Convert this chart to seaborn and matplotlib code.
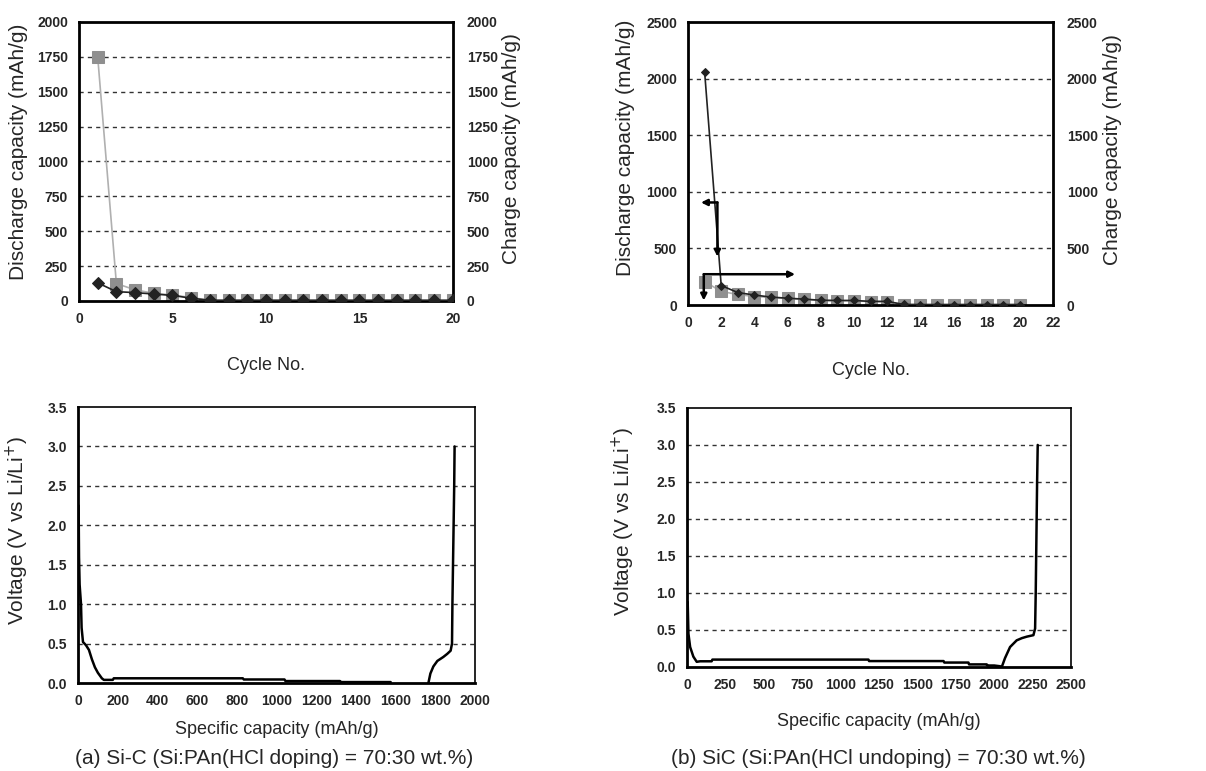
import matplotlib
matplotlib.use("Agg")
import matplotlib.pyplot as plt
from matplotlib import font_manager
import seaborn as sns
import numpy as np

# cycle data, panel (a)
cycles_a = list(range(1, 21))
dis_a = [130, 67, 60, 50, 40, 20, 5, 5, 5, 5, 5, 5, 5, 5, 5, 5, 5, 5, 5, 5]
chg_a = [1750, 125, 80, 55, 43, 25, 5, 5, 5, 5, 5, 5, 5, 5, 5, 5, 5, 5, 5, 5]

# cycle data, panel (b)
cycles_b = list(range(1, 21))
dis_b = [2060, 172, 110, 88, 70, 60, 52, 42, 40, 40, 32, 32, 5, 4, 4, 4, 4, 4, 4, 4]
chg_b = [207, 120, 93, 75, 67, 58, 49, 40, 38, 38, 29, 29, 3, 3, 3, 3, 3, 3, 3, 3]

# voltage profiles, panel (a)
va_dis_x = [3, 5, 8, 15, 18, 25, 40, 55, 70, 85, 100, 120, 130, 175, 180, 830, 835, 1040, 1045, 1320, 1325, 1575]
va_dis_y = [2.25, 1.6, 1.25, 1.0, 0.7, 0.52, 0.48, 0.42, 0.3, 0.2, 0.13, 0.06, 0.04, 0.04, 0.06, 0.06, 0.045, 0.045, 0.025, 0.025, 0.012, 0.012]
va_chg_x = [1765, 1775, 1790, 1810, 1840, 1860, 1877, 1884, 1886, 1889, 1892, 1895, 1897]
va_chg_y = [0.0, 0.12, 0.21, 0.28, 0.33, 0.37, 0.41, 0.5, 1.0, 1.5, 2.0, 2.5, 3.0]

# voltage profiles, panel (b)
vb_dis_x = [4, 9, 20, 41, 63, 85, 160, 165, 1181, 1185, 1670, 1675, 1832, 1836, 1951, 1955, 2000, 2038, 2049]
vb_dis_y = [0.88, 0.45, 0.27, 0.14, 0.07, 0.077, 0.077, 0.1, 0.1, 0.08, 0.08, 0.06, 0.06, 0.035, 0.035, 0.02, 0.02, 0.01, 0.0]
vb_chg_x = [2049, 2070, 2103, 2146, 2180, 2212, 2255, 2266, 2270, 2273, 2276, 2279, 2283]
vb_chg_y = [0.0, 0.12, 0.27, 0.36, 0.39, 0.41, 0.43, 0.52, 1.0, 1.5, 2.0, 2.5, 3.0]

sns.set_style("white")
plt.rcParams['font.family'] = ['Liberation Sans', 'DejaVu Sans']

tickprop = font_manager.FontProperties(family=['Liberation Sans', 'DejaVu Sans'], weight='bold', size=10)

ylabsize = 15
xlabsize = 13
grid_kw = dict(color='#333333', linestyle=(0, (3, 3)), linewidth=1)

fig = plt.figure(figsize=(12.06, 7.71), dpi=100)


def style_box(ax, thick=2.0, thin=2.0):
    for s in ['left', 'bottom']:
        ax.spines[s].set_linewidth(thick)
        ax.spines[s].set_color('black')
    for s in ['top', 'right']:
        ax.spines[s].set_linewidth(thin)
        ax.spines[s].set_color('black')


def set_ticklabels_font(ax):
    for lab in ax.get_xticklabels() + ax.get_yticklabels():
        lab.set_fontproperties(tickprop)


def cycle_panel(rect, cyc, dis, chg, ymax, ystep, xmax, xstep, dis_ms, lcoords, rcoords, xpad):
    ax = fig.add_axes(rect)
    sns.lineplot(x=cyc, y=chg, ax=ax, color='#b0b0b0', lw=1.2, marker='s', ms=9,
                 markerfacecolor='#8f8f8f', markeredgecolor='#8f8f8f', estimator=None, sort=False, zorder=2)
    sns.lineplot(x=cyc, y=dis, ax=ax, color='#222222', lw=1.2, marker='D', ms=dis_ms,
                 markerfacecolor='#222222', markeredgecolor='#222222', estimator=None, sort=False, zorder=3)
    ax.set_xlim(0, xmax)
    ax.set_ylim(0, ymax)
    ax.set_xticks(np.arange(0, xmax + 1, xstep))
    ax.set_yticks(np.arange(0, ymax + 1, ystep))
    for v in np.arange(ystep, ymax, ystep):
        ax.axhline(v, zorder=0, **grid_kw)
    ax.tick_params(length=0, pad=8)
    style_box(ax)
    ax2 = ax.twinx()
    ax2.set_ylim(0, ymax)
    ax2.set_yticks(np.arange(0, ymax + 1, ystep))
    ax2.tick_params(length=0, pad=10)
    for s in ax2.spines.values():
        s.set_visible(False)
    set_ticklabels_font(ax)
    set_ticklabels_font(ax2)
    ax.set_ylabel("Discharge capacity (mAh/g)", fontsize=ylabsize, va='center')
    ax.yaxis.set_label_coords(*lcoords)
    ax2.set_ylabel("Charge capacity (mAh/g)", fontsize=ylabsize, va='center')
    ax2.yaxis.set_label_coords(*rcoords)
    ax.set_xlabel("Cycle No.", fontsize=xlabsize, labelpad=xpad)
    return ax


ax_a = cycle_panel([0.0655, 0.6096, 0.310, 0.362], cycles_a, dis_a, chg_a, 2000, 250, 20, 5, 6,
                   (-0.163, 0.534), (1.158, 0.545), 22)
ax_b = cycle_panel([0.5705, 0.6044, 0.3027, 0.367], cycles_b, dis_b, chg_b, 2500, 500, 22, 2, 4,
                   (-0.1726, 0.557), (1.164, 0.551), 23)

# arrows in panel (b) top
arr = dict(arrowstyle='-|>', color='black', lw=1.8, mutation_scale=9, shrinkA=0, shrinkB=0)
ax_b.annotate('', xy=(0.78, 906), xytext=(1.77, 906), arrowprops=arr)
ax_b.annotate('', xy=(1.77, 427), xytext=(1.77, 906), arrowprops=arr)
ax_b.annotate('', xy=(6.45, 272), xytext=(0.95, 272), arrowprops=arr)
ax_b.annotate('', xy=(0.95, 40), xytext=(0.95, 272), arrowprops=arr)


def volt_panel(rect, dx, dy, cx, cy, xmax, xstep, lcoords, xpad):
    ax = fig.add_axes(rect)
    sns.lineplot(x=dx, y=dy, ax=ax, color='black', lw=1.8, estimator=None, sort=False)
    sns.lineplot(x=cx, y=cy, ax=ax, color='black', lw=1.8, estimator=None, sort=False)
    ax.set_xlim(0, xmax)
    ax.set_ylim(0, 3.5)
    ax.set_xticks(np.arange(0, xmax + 1, xstep))
    ax.set_yticks(np.arange(0, 3.51, 0.5))
    ax.set_yticklabels([f"{v:.1f}" for v in np.arange(0, 3.51, 0.5)])
    for v in np.arange(0.5, 3.01, 0.5):
        ax.axhline(v, zorder=0, **grid_kw)
    ax.tick_params(axis='x', direction='in', length=4, width=1, pad=8)
    ax.tick_params(axis='y', length=0, pad=8)
    style_box(ax, thick=2.0, thin=1.2)
    set_ticklabels_font(ax)
    ax.set_ylabel("Voltage (V vs Li/Li$^{+}$)", fontsize=ylabsize, va='center')
    ax.yaxis.set_label_coords(*lcoords)
    ax.set_xlabel("Specific capacity (mAh/g)", fontsize=xlabsize, labelpad=xpad)
    return ax


ax_c = volt_panel([0.0647, 0.1141, 0.3292, 0.358], va_dis_x, va_dis_y, va_chg_x, va_chg_y, 2000, 200,
                  (-0.154, 0.554), 9)
ax_d = volt_panel([0.5697, 0.1349, 0.3184, 0.336], vb_dis_x, vb_dis_y, vb_chg_x, vb_chg_y, 2500, 250,
                  (-0.167, 0.56), 15)

fig.text(274 / 1206, 1 - 759 / 771, "(a) Si-C (Si:PAn(HCl doping) = 70:30 wt.%)", fontsize=15,
         ha='center', va='center')
fig.text(878 / 1206, 1 - 759 / 771, "(b) SiC (Si:PAn(HCl undoping) = 70:30 wt.%)", fontsize=15,
         ha='center', va='center')

fig.savefig("out.png", dpi=100)
